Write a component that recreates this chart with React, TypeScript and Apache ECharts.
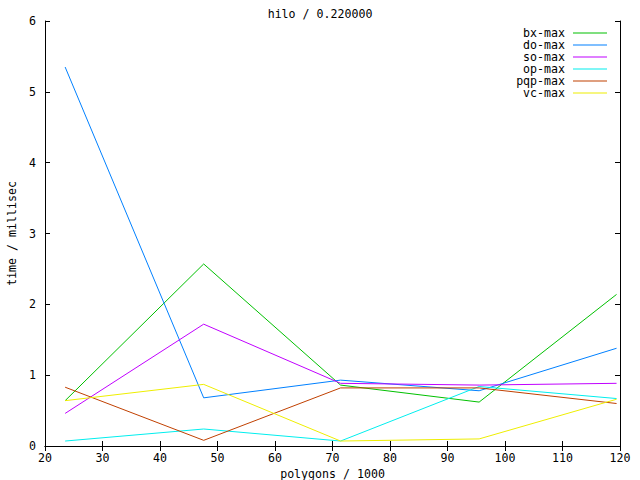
import React, { useEffect, useRef } from "react";
import * as echarts from "echarts";

const seriesNames = ["bx-max", "do-max", "so-max", "op-max", "pqp-max", "vc-max"];
const seriesColors = ["#00c000", "#0080ff", "#c000ff", "#00eeee", "#c04000", "#eeee00"];
const xValues = [23.5, 47.6, 71.4, 95.5, 119.4];
const bxMax = [0.64, 2.57, 0.86, 0.62, 2.14];
const doMax = [5.35, 0.68, 0.93, 0.78, 1.38];
const soMax = [0.46, 1.72, 0.885, 0.86, 0.885];
const opMax = [0.07, 0.24, 0.07, 0.84, 0.67];
const pqpMax = [0.83, 0.08, 0.82, 0.82, 0.6];
const vcMax = [0.64, 0.87, 0.07, 0.1, 0.66];
const allValues = [bxMax, doMax, soMax, opMax, pqpMax, vcMax];

const FONT = "DejaVu Sans Mono";
const FS = 11.6;

export default function App() {
  const ref = useRef<HTMLDivElement>(null);
  useEffect(() => {
    if (!ref.current) return;
    const chart = echarts.init(ref.current, undefined, { renderer: "svg" });
    const axisLine = { show: true, lineStyle: { color: "#000", width: 1 } };
    const tick = { show: true, inside: true, length: 5, lineStyle: { color: "#000", width: 1 } };
    const label = { color: "#000", fontFamily: FONT, fontSize: FS };
    chart.setOption({
      animation: false,
      backgroundColor: "#fff",
      title: {
        text: "hilo / 0.220000",
        left: "center",
        top: 8,
        padding: 0,
        textStyle: { fontFamily: FONT, fontSize: FS, fontWeight: "normal", color: "#000" },
      },
      grid: { left: 45, right: 20, top: 21, bottom: 34, containLabel: false, outerBoundsMode: "none" },
      legend: {
        orient: "vertical",
        right: 33,
        top: 27,
        align: "right",
        padding: 0,
        itemWidth: 34,
        itemHeight: 1,
        itemGap: 0,
        icon: "rect",
        textStyle: { fontFamily: FONT, fontSize: FS, color: "#000", lineHeight: 12, padding: [0, 3, 0, 0] },
        data: seriesNames,
      },
      xAxis: [
        {
          type: "value",
          min: 20,
          max: 120,
          interval: 10,
          position: "bottom",
          name: "polygons / 1000",
          nameLocation: "middle",
          nameGap: 22,
          nameMoveOverlap: false,
          nameTextStyle: { fontFamily: FONT, fontSize: FS, color: "#000" },
          axisLine,
          axisTick: tick,
          axisLabel: { ...label, margin: 6 },
          splitLine: { show: false },
        },
        {
          type: "value",
          min: 20,
          max: 120,
          interval: 10,
          position: "top",
          axisLine,
          axisTick: tick,
          axisLabel: { show: false },
          splitLine: { show: false },
        },
      ],
      yAxis: [
        {
          type: "value",
          min: 0,
          max: 6,
          interval: 1,
          position: "left",
          name: "time / millisec",
          nameLocation: "middle",
          nameGap: 27,
          nameMoveOverlap: false,
          nameTextStyle: { fontFamily: FONT, fontSize: FS, color: "#000" },
          axisLine,
          axisTick: tick,
          axisLabel: { ...label, margin: 9 },
          splitLine: { show: false },
        },
        {
          type: "value",
          min: 0,
          max: 6,
          interval: 1,
          position: "right",
          axisLine,
          axisTick: tick,
          axisLabel: { show: false },
          splitLine: { show: false },
        },
      ],
      series: seriesNames.map((name, i) => ({
        name,
        type: "line",
        data: xValues.map((x, j) => [x, allValues[i][j]]),
        showSymbol: false,
        symbol: "none",
        color: seriesColors[i],
        lineStyle: { color: seriesColors[i], width: 1 },
      })),
    });
    return () => chart.dispose();
  }, []);
  return <div ref={ref} style={{ width: 640, height: 480, position: "absolute", left: 0, top: 0 }} />;
}
